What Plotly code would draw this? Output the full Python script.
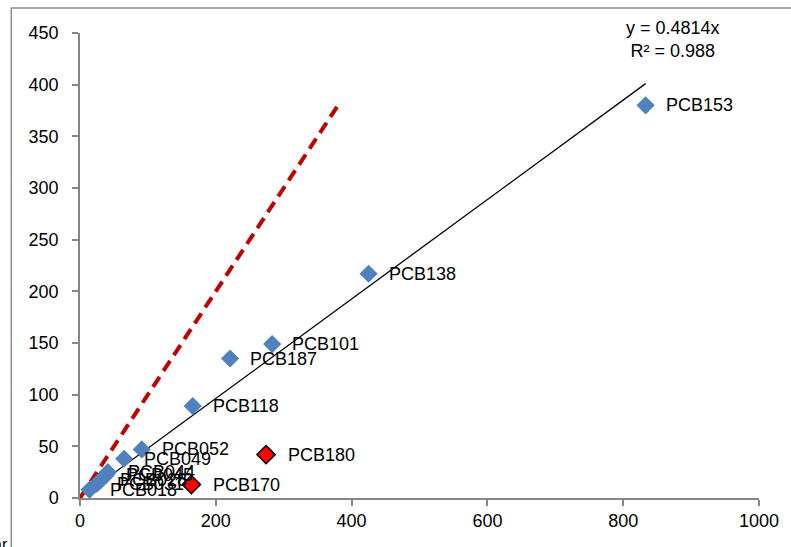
import numpy as np
import plotly.graph_objects as go

# Blue series (all congeners)
blue_names = ["PCB153", "PCB138", "PCB101", "PCB187", "PCB118", "PCB052", "PCB049",
              "PCB044", "PCB045", "PCB028", "PCB031", "PCB018", "PCB180", "PCB170"]
blue_x = [833, 425, 283, 221, 166, 91, 65, 41, 38, 30, 25, 14, 274, 164]
blue_y = [380, 217, 149, 135, 89, 47, 38, 25, 22, 17, 14, 8, 42, 13]
blue_show_label = [True] * 12 + [False, False]

# Red series (outliers)
red_names = ["PCB180", "PCB170"]
red_x = [274, 164]
red_y = [42, 13]

slope = 0.4814
r2 = 0.988
one_to_one = [0, 380]

x_ticks = [0, 200, 400, 600, 800, 1000]
y_ticks = [0, 50, 100, 150, 200, 250, 300, 350, 400, 450]

FONT = "Liberation Sans"
fig = go.Figure()

# 1:1 dashed line
fig.add_trace(go.Scatter(x=one_to_one, y=one_to_one, mode="lines",
                         line=dict(color="#C00000", width=4, dash="12px,7px"),
                         hoverinfo="skip", showlegend=False))

# trendline
tx = np.array([min(blue_x[:12]), max(blue_x)])
fig.add_trace(go.Scatter(x=tx, y=slope * tx, mode="lines",
                         line=dict(color="black", width=1.3),
                         hoverinfo="skip", showlegend=False))

fig.add_trace(go.Scatter(x=blue_x, y=blue_y, mode="markers",
                         marker=dict(symbol="diamond", size=14, color="#4F81BD",
                                     line=dict(width=0)),
                         showlegend=False))
fig.add_trace(go.Scatter(x=red_x, y=red_y, mode="markers",
                         marker=dict(symbol="diamond", size=14, color="#FF0000",
                                     line=dict(width=1.5, color="black")),
                         showlegend=False))

annotations = []
for n, x, y, s in zip(blue_names, blue_x, blue_y, blue_show_label):
    if s:
        annotations.append(dict(x=x, y=y, text=n, xanchor="left", yanchor="middle",
                                xshift=18, showarrow=False,
                                font=dict(family=FONT, size=18, color="black")))
for n, x, y in zip(red_names, red_x, red_y):
    annotations.append(dict(x=x, y=y, text=n, xanchor="left", yanchor="middle",
                            xshift=20, showarrow=False,
                            font=dict(family=FONT, size=18, color="black")))

annotations.append(dict(xref="paper", yref="paper", x=0.873, y=1.036,
                        text=f"y = {slope}x<br>R² = {r2}", showarrow=False,
                        xanchor="center", yanchor="top", align="center",
                        font=dict(family=FONT, size=18, color="black")))
annotations.append(dict(xref="paper", yref="paper", x=-0.103, y=-0.1,
                        text="ar", showarrow=False, xanchor="right", yanchor="middle",
                        font=dict(family=FONT, size=16, color="black")))

fig.update_layout(
    width=791, height=547,
    margin=dict(l=80, r=29, t=33, b=49),
    paper_bgcolor="white", plot_bgcolor="white",
    annotations=annotations,
    shapes=[dict(type="rect", xref="paper", yref="paper",
                 x0=-0.1012, y0=-0.3, x1=1.3, y1=1.0538,
                 line=dict(color="#8C8C8C", width=1.5), layer="below")],
    xaxis=dict(range=[0, 1000], tickvals=x_ticks, showgrid=False, zeroline=False,
               showline=True, linecolor="#868686", linewidth=1.5,
               ticks="outside", ticklen=6, tickcolor="#868686", tickwidth=1.5,
               tickfont=dict(family=FONT, size=18, color="black")),
    yaxis=dict(range=[0, 450], tickvals=y_ticks, showgrid=False, zeroline=False,
               showline=True, linecolor="#868686", linewidth=1.5,
               ticks="outside", ticklen=6, tickcolor="#868686", tickwidth=1.5,
               ticklabelstandoff=10,
               tickfont=dict(family=FONT, size=18, color="black")),
)

fig.write_html("out.html")
